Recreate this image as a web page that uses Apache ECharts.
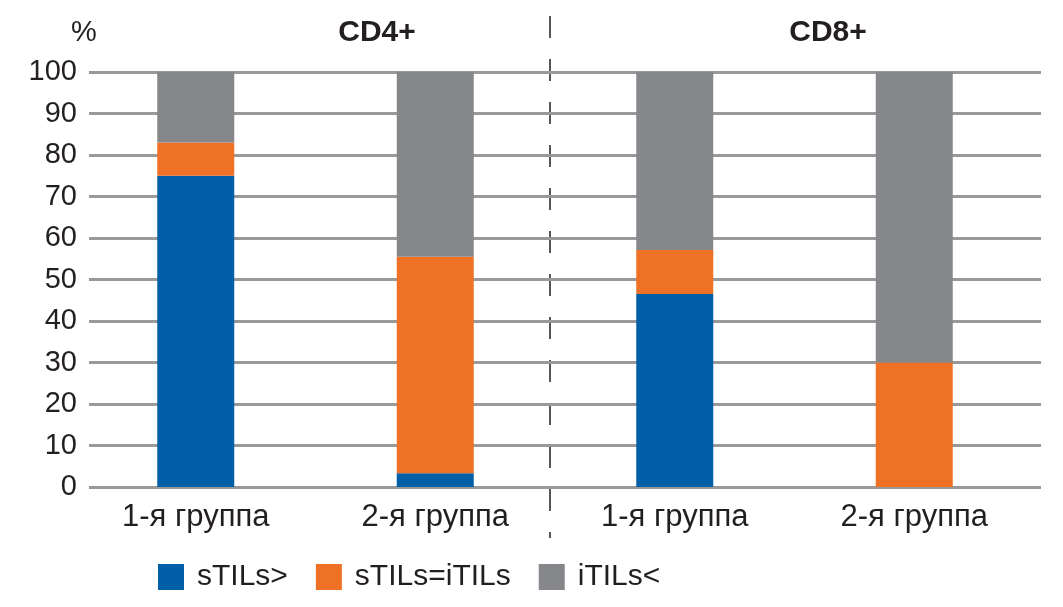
<!DOCTYPE html>
<html>
<head>
<meta charset="utf-8">
<script src="https://cdn.jsdelivr.net/npm/echarts@6/dist/echarts.min.js"></script>
<style>html,body{margin:0;padding:0;background:#fff}#c{width:1063px;height:607px}</style>
</head>
<body>
<div id="c"></div>
<script>
const categories = ['1-я группа', '2-я группа', '1-я группа', '2-я группа'];
const seriesNames = ['sTILs>', 'sTILs=iTILs', 'iTILs<'];
const sTILsGreater = [75, 3.3, 46.5, 0];
const sTILsEqual = [8, 52.2, 10.6, 30];
const iTILsLess = [17, 44.5, 42.9, 70];
const yTicks = [0, 10, 20, 30, 40, 50, 60, 70, 80, 90, 100];
const panelTitles = ['CD4+', 'CD8+'];

const colors = ['#005fa6', '#ef7126', '#86878a'];
const textColor = '#231f20';
const fontFamily = 'Liberation Sans, Arial, Helvetica, sans-serif';

const chart = echarts.init(document.getElementById('c'), null, {renderer: 'canvas'});
const mk = (name, data, i) => ({
  name, type: 'bar', stack: 'total', data,
  xAxisIndex: 1, yAxisIndex: 1,
  barWidth: 77,
  itemStyle: {color: colors[i]},
  emphasis: {disabled: true}
});
chart.setOption({
  animation: false,
  color: colors,
  textStyle: {fontFamily},
  grid: [
    {left: 89, right: 22, top: 72, bottom: 120},
    {left: 76, right: 29, top: 72, bottom: 120}
  ],
  xAxis: [
    {gridIndex: 0, type: 'category', data: categories, show: false},
    {gridIndex: 1, type: 'category', data: categories,
     axisLine: {show: false}, axisTick: {show: false},
     axisLabel: {color: textColor, fontSize: 31, margin: 15, fontFamily}}
  ],
  yAxis: [
    {gridIndex: 0, type: 'value', min: yTicks[0], max: yTicks[yTicks.length-1], interval: 10,
     axisLine: {show: false}, axisTick: {show: false},
     axisLabel: {color: textColor, fontSize: 29, margin: 12, fontFamily},
     splitLine: {lineStyle: {color: '#999999', width: 3}}},
    {gridIndex: 1, type: 'value', min: 0, max: 100, show: false, splitLine: {show: false}}
  ],
  legend: {
    left: 158, top: 562, padding: 0,
    itemWidth: 26, itemHeight: 26, itemGap: 28,
    icon: 'rect',
    data: seriesNames,
    textStyle: {color: textColor, fontSize: 30, fontFamily, padding: [0, 0, 0, 8]}
  },
  graphic: [
    {type: 'line', shape: {x1: 550, y1: 16, x2: 550, y2: 538},
     style: {stroke: textColor, lineWidth: 1.5, lineDash: [22, 21]}, silent: true},
    {type: 'text', x: 377, y: 33, style: {text: panelTitles[0], fill: textColor, font: 'bold 30px ' + fontFamily, textAlign: 'center', textVerticalAlign: 'middle'}},
    {type: 'text', x: 828, y: 33, style: {text: panelTitles[1], fill: textColor, font: 'bold 30px ' + fontFamily, textAlign: 'center', textVerticalAlign: 'middle'}},
    {type: 'text', x: 84, y: 33, style: {text: '%', fill: textColor, font: '29px ' + fontFamily, textAlign: 'center', textVerticalAlign: 'middle'}}
  ],
  series: [
    mk(seriesNames[0], sTILsGreater, 0),
    mk(seriesNames[1], sTILsEqual, 1),
    mk(seriesNames[2], iTILsLess, 2)
  ]
});
</script>
</body>
</html>
